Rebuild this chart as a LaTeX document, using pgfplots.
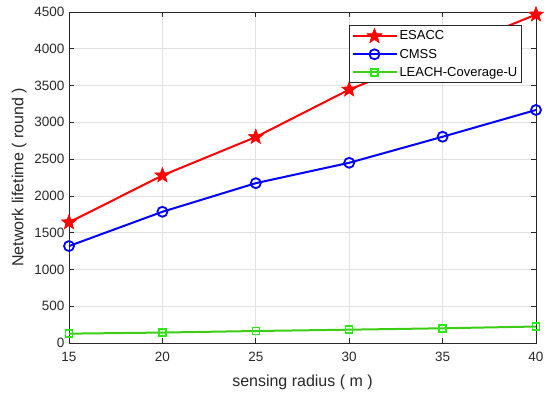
\documentclass[border=0pt]{standalone}
\usepackage{pgfplots}
\pgfplotsset{compat=1.18}
\usepackage{fontspec}
\setmainfont{Liberation Sans}
\definecolor{gridc}{RGB}{225,225,225}
\definecolor{axc}{RGB}{40,40,40}
\definecolor{lgreen}{RGB}{60,205,20}
\definecolor{mgreen}{RGB}{40,235,20}
\pgfdeclareplotmark{fstar}{%
  \pgfpathmoveto{\pgfqpointpolar{90}{\pgfplotmarksize}}%
  \pgfpathlineto{\pgfqpointpolar{126}{0.42\pgfplotmarksize}}%
  \pgfpathlineto{\pgfqpointpolar{162}{\pgfplotmarksize}}%
  \pgfpathlineto{\pgfqpointpolar{198}{0.42\pgfplotmarksize}}%
  \pgfpathlineto{\pgfqpointpolar{234}{\pgfplotmarksize}}%
  \pgfpathlineto{\pgfqpointpolar{270}{0.42\pgfplotmarksize}}%
  \pgfpathlineto{\pgfqpointpolar{306}{\pgfplotmarksize}}%
  \pgfpathlineto{\pgfqpointpolar{342}{0.42\pgfplotmarksize}}%
  \pgfpathlineto{\pgfqpointpolar{18}{\pgfplotmarksize}}%
  \pgfpathlineto{\pgfqpointpolar{54}{0.42\pgfplotmarksize}}%
  \pgfpathclose
  \pgfusepathqfillstroke}
\begin{document}
\begin{tikzpicture}[x=1pt,y=1pt]
\path[use as bounding box] (-69,-51) rectangle (481,343);
\begin{axis}[
  at={(0,0)}, anchor=south west,
  scale only axis, width=467pt, height=331pt,
  xmin=15, xmax=40, ymin=0, ymax=4500,
  xtick={15,20,25,30,35,40},
  ytick={0,500,1000,1500,2000,2500,3000,3500,4000,4500},
  grid=major, major grid style={gridc, line width=0.7pt},
  axis line style={axc, line width=0.7pt},
  tick style={axc, line width=0.7pt},
  tick align=inside, major tick length=5pt,
  ticklabel style={font=\fontsize{13.5}{15}\selectfont, text=axc},
  /pgf/number format/assume math mode=true,
  scaled y ticks=false,
  y tick label style={/pgf/number format/1000 sep={}, xshift=-1pt},
  x tick label style={yshift=-6pt},
  xlabel={sensing radius ( m )}, ylabel={Network lifetime ( round )},
  label style={font=\fontsize{16}{18}\selectfont, text=axc},
  xlabel style={yshift=-6pt}, ylabel style={yshift=1pt},
  legend style={at={(0.6,0.961)}, anchor=north west, draw=axc, line width=0.6pt,
    font=\fontsize{13}{15}\selectfont, row sep=3.5pt, inner xsep=2pt, inner ysep=3pt, cells={anchor=west}},
  legend cell align=left,
  legend image code/.code={\draw[mark repeat=2,mark phase=2,#1] plot coordinates {(0pt,0pt) (22pt,0pt) (44pt,0pt)};},
]
\addplot[red, line width=2pt, mark=fstar, mark size=8pt, mark options={solid, fill=red, line width=0.5pt}] coordinates {
 (15,1640) (20,2278) (25,2800) (30,3445) (35,3950) (40,4465)};
\addlegendentry{ESACC}
\addplot[blue, line width=2pt, mark=o, mark size=5pt, mark options={line width=1.8pt}] coordinates {
 (15,1318) (20,1784) (25,2173) (30,2450) (35,2804) (40,3168)};
\addlegendentry{CMSS}
\addplot[lgreen, line width=2pt, mark=square, mark size=3.5pt, mark options={mgreen, line width=1.5pt}] coordinates {
 (15,127) (20,142) (25,163) (30,181) (35,200) (40,224)};
\addlegendentry{LEACH-Coverage-U}
\end{axis}
\end{tikzpicture}
\end{document}
